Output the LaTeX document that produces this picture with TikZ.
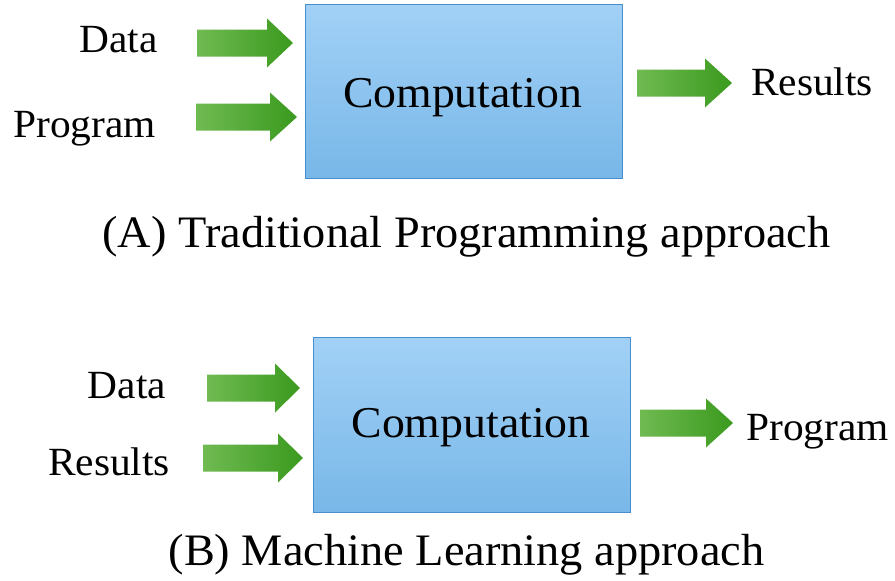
\documentclass[tikz,border=0pt]{standalone}
\usepackage{fontspec}
\setmainfont{Liberation Serif}
\newfontfamily\lblfont[FakeStretch=1.035]{Liberation Serif}
\newfontfamily\compfont[FakeStretch=1.04]{Liberation Serif}
\newfontfamily\capfont[FakeStretch=1.03]{Liberation Serif}
\usetikzlibrary{calc}
\definecolor{boxtop}{RGB}{162,209,246}
\definecolor{boxbot}{RGB}{120,183,232}
\definecolor{boxline}{RGB}{72,142,204}
\definecolor{arrlight}{RGB}{112,186,82}
\definecolor{arrdark}{RGB}{58,154,30}
\tikzset{
  lbl/.style={inner sep=0pt, anchor=base, font=\lblfont\fontsize{40}{44}\selectfont},
  captiontext/.style={inner sep=0pt, anchor=base, font=\capfont\fontsize{45}{50}\selectfont},
  comp/.style={inner sep=0pt, anchor=base, font=\compfont\fontsize{44}{48}\selectfont},
}
% block arrow from #1 (tail, shaft centre) to #2 (tip); #3 = head length
\newcommand{\garrow}[3]{%
  \shade[left color=arrlight, right color=arrdark]
    ($(#1)+(0,-13.5)$) -- ($(#2)+(-#3,-13.5)$) -- ($(#2)+(-#3,-24.5)$) -- (#2)
    -- ($(#2)+(-#3,24.5)$) -- ($(#2)+(-#3,13.5)$) -- ($(#1)+(0,13.5)$) -- cycle;}
\newcommand{\compbox}[2]{%
  \draw[boxline, line width=1pt, top color=boxtop, bottom color=boxbot] (#1) rectangle (#2);}
\begin{document}
\begin{tikzpicture}[x=1pt, y=-1pt]
\useasboundingbox (0,0) rectangle (895,581);

% ---- (A) traditional programming ----
\coordinate (boxA1) at (305,4);
\coordinate (boxA2) at (622,178);
\compbox{boxA1}{boxA2}
\node[comp] (compA) at (462.5,107) {Computation};

\node[lbl] (dataA) at (118.5,52) {Data};
\node[lbl] (progA) at (84.5,137) {Program};
\node[lbl] (resA) at (812,95) {Results};

\coordinate (a1s) at (197,43);  \coordinate (a1t) at (293,43);
\coordinate (a2s) at (196,117); \coordinate (a2t) at (297,117);
\coordinate (a3s) at (637,83);  \coordinate (a3t) at (732,83);
\garrow{a1s}{a1t}{26}
\garrow{a2s}{a2t}{27}
\garrow{a3s}{a3t}{27}

\node[captiontext] (capA) at (466.5,247) {(A) Traditional Programming approach};

% ---- (B) machine learning ----
\coordinate (boxB1) at (313,337);
\coordinate (boxB2) at (630,512);
\compbox{boxB1}{boxB2}
\node[comp] (compB) at (471,437) {Computation};

\node[lbl] (dataB) at (127,398) {Data};
\node[lbl] (resB) at (109,475) {Results};
\node[lbl] (progB) at (817.5,440) {Program};

\coordinate (b1s) at (207,388); \coordinate (b1t) at (300,388);
\coordinate (b2s) at (203,458); \coordinate (b2t) at (303,458);
\coordinate (b3s) at (640,423); \coordinate (b3t) at (733,423);
\garrow{b1s}{b1t}{25}
\garrow{b2s}{b2t}{25}
\garrow{b3s}{b3t}{27}

\node[captiontext] (capB) at (466.5,565) {(B) Machine Learning approach};
\end{tikzpicture}
\end{document}
